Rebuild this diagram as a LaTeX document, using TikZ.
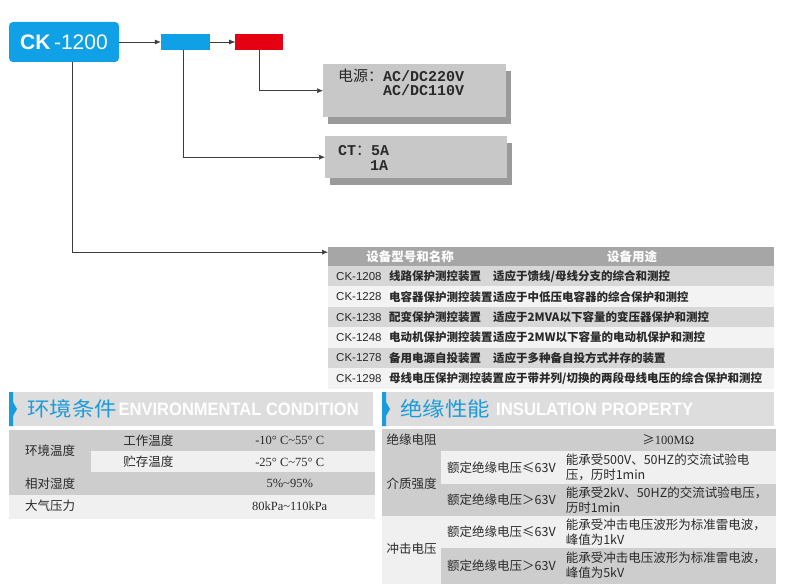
\documentclass[tikz,border=0pt]{standalone}
\usepackage{fontspec}
\setmainfont{Liberation Serif}
\setsansfont{Liberation Sans}
\setmonofont{Liberation Mono}
\newfontfamily\cjk{Noto Sans CJK SC}
\usepackage{graphicx}
\usepackage{tikz}
\usetikzlibrary{shapes,positioning,calc}
\usetikzlibrary{shadows}
\usetikzlibrary{arrows.meta}
\definecolor{ckblue}{HTML}{0FA0E6}
\definecolor{ckred}{HTML}{E50012}
\definecolor{boxgray}{HTML}{C8C8C8}
\definecolor{shadowgray}{HTML}{9A9A9A}
\definecolor{hdrgray}{HTML}{A6A6A6}
\definecolor{rowgray}{HTML}{D7D7D7}
\definecolor{rowlight}{HTML}{F3F3F3}
\definecolor{bannergray}{HTML}{DDDDDD}
\definecolor{titleblue}{HTML}{1A9BDC}
\definecolor{cellgray}{HTML}{CDCDCD}
\definecolor{celllight}{HTML}{F0F0F0}
\definecolor{linegray}{HTML}{3C3C3C}
\definecolor{txtgray}{HTML}{2A2A2A}
\newcommand{\rng}{{\char"7E\relax}}
\tikzstyle{arrow} = [semithick,->,>={Latex[length=6pt,width=5pt]},draw=linegray]

\begin{document}
\begin{tikzpicture}[x=1pt, y=-1pt,
	codebox/.style={rectangle, inner sep=0pt, minimum width=#1, minimum height=16pt},
	infobox/.style={rectangle, inner sep=0pt, fill=boxgray, anchor=north west, general shadow={fill=shadowgray, shadow xshift=5pt, shadow yshift=-7pt}},
	infotext/.style={anchor=base west, inner sep=0pt, text=txtgray, font=\ttfamily\bfseries\fontsize{15}{15}\selectfont},
	tblrow/.style={rectangle, inner sep=0pt, anchor=north west, minimum width=445pt, minimum height=20.4pt, fill=#1, draw=#1, line width=0.3pt},
	rowtext/.style={anchor=west, inner sep=0pt, text=txtgray, font=\cjk\bfseries\fontsize{11.5}{12}\selectfont},
	idtext/.style={anchor=west, inner sep=0pt, text=txtgray, font=\sffamily\fontsize{11.5}{12}\selectfont},
	headtext/.style={inner sep=0pt, text=white, font=\cjk\bfseries\fontsize{12.5}{13}\selectfont},
	banner/.style={rectangle, inner sep=0pt, anchor=north west, minimum height=34pt, fill=bannergray},
	tcell/.style={rectangle, inner sep=0pt, anchor=north west, text=txtgray, font=\cjk\fontsize{12.5}{15}\selectfont, fill=#1, draw=#1, line width=0.3pt},
	valcell/.style={align=left, text width=205pt, inner xsep=4pt}]
	\useasboundingbox (0,0) rectangle (787,588);
	
	% CODE
	
	\node[rectangle, rounded corners=4pt, fill=ckblue, text=white, minimum width=110pt, minimum height=40pt, font=\sffamily\fontsize{21}{21}\selectfont] (ck) at (64,42) {\textbf{CK}\,-1200};
	\node[codebox=49pt, fill=ckblue] (cktype) at (185.5,42) {};
	\node[codebox=48pt, fill=ckred, right=25pt of cktype] (ckpower) {};
	
	% OPTIONS
	
	\node[infobox, minimum width=183pt, minimum height=53pt] (power) at (323,64) {};
	\node[infobox, minimum width=182pt, minimum height=42pt] (ct) at (325,136) {};
	\node[infotext] (power1) at (338,82) {{\cjk\mdseries 电源：}AC/DC220V};
	\node[infotext] (power2) at (383,96) {AC/DC110V};
	\node[infotext] (ct1) at (338,156) {CT{\cjk\mdseries ：}5A};
	\node[infotext] (ct2) at (370,171) {1A};
	
	% MODELS
	
	\node[tblrow=hdrgray, minimum height=19pt] (thead) at (328,247) {};
	\node[headtext] (theadname) at (410,256.5) {设备型号和名称};
	\node[headtext] (theaduse) at (632,256.5) {设备用途};
	
	\node[tblrow=rowgray] (r1) at (328,266) {};
	\node[tblrow=rowlight] (r2) at (328,286.4) {};
	\node[tblrow=rowgray] (r3) at (328,306.8) {};
	\node[tblrow=rowlight] (r4) at (328,327.2) {};
	\node[tblrow=rowgray] (r5) at (328,347.6) {};
	\node[tblrow=rowlight] (r6) at (328,368) {};
	
	\node[idtext] (r1id) at ([xshift=8pt]r1.west) {CK-1208};
	\node[rowtext] (r1name) at ([xshift=61pt]r1.west) {线路保护测控装置};
	\node[rowtext] (r1use) at ([xshift=165pt]r1.west) {适应于馈线/母线分支的综合和测控};
	\node[idtext] (r2id) at ([xshift=8pt]r2.west) {CK-1228};
	\node[rowtext] (r2name) at ([xshift=61pt]r2.west) {电容器保护测控装置};
	\node[rowtext] (r2use) at ([xshift=165pt]r2.west) {适应于中低压电容器的综合保护和测控};
	\node[idtext] (r3id) at ([xshift=8pt]r3.west) {CK-1238};
	\node[rowtext] (r3name) at ([xshift=61pt]r3.west) {配变保护测控装置};
	\node[rowtext] (r3use) at ([xshift=165pt]r3.west) {适应于2MVA以下容量的变压器保护和测控};
	\node[idtext] (r4id) at ([xshift=8pt]r4.west) {CK-1248};
	\node[rowtext] (r4name) at ([xshift=61pt]r4.west) {电动机保护测控装置};
	\node[rowtext] (r4use) at ([xshift=165pt]r4.west) {适应于2MW以下容量的电动机保护和测控};
	\node[idtext] (r5id) at ([xshift=8pt]r5.west) {CK-1278};
	\node[rowtext] (r5name) at ([xshift=61pt]r5.west) {备用电源自投装置};
	\node[rowtext] (r5use) at ([xshift=165pt]r5.west) {适应于多种备自投方式并存的装置};
	\node[idtext] (r6id) at ([xshift=8pt]r6.west) {CK-1298};
	\node[rowtext] (r6name) at ([xshift=61pt]r6.west) {母线电压保护测控装置};
	\node[rowtext, right=0pt of r6name] (r6use) {应于带并列/切换的两段母线电压的综合保护和测控};
	
	% CONNECTORS
	
	\draw[arrow] (ck) -- (cktype);
	\draw[arrow] (cktype) -- (ckpower);
	\draw[arrow] (ckpower.south) |- (power.west);
	\draw[arrow] ([xshift=-2.5pt]cktype.south) |- (ct.west);
	\draw[arrow] ([xshift=8pt]ck.south) |- ([yshift=4.5pt]thead.west);
	
	% ENVIRONMENT
	
	\node[banner, minimum width=364pt] (envbar) at (9,392) {};
	\fill[titleblue] (envbar.north west) -- ++(4,0) -- ++(0,10) -- ++(4,7) -- ++(-4,7) -- ++(0,10) -- ++(-4,0) -- cycle;
	\node[anchor=west, inner sep=0pt, text=titleblue] (envtitle) at ([xshift=18pt]envbar.west) {\scalebox{1.12}[1]{\cjk\fontsize{20}{20}\selectfont 环境条件}};
	\node[inner sep=0pt, text=white, right=1.5pt of envtitle] (envtitleen) {\resizebox{240pt}{12.5pt}{\sffamily\bfseries ENVIRONMENTAL CONDITION}};
	
	\node[tcell=cellgray, minimum width=82pt, minimum height=42pt] (envtemp) at (9,430) {环境温度};
	\node[tcell=cellgray, minimum width=114pt, minimum height=21pt] (envwork) at (envtemp.north east) {工作温度};
	\node[tcell=cellgray, minimum width=168pt, minimum height=21pt, font=\rmfamily\fontsize{12.5}{15}\selectfont] (envworkval) at (envwork.north east) {-10° C\rng 55° C};
	\node[tcell=celllight, minimum width=114pt, minimum height=21pt] (envstore) at (envwork.south west) {贮存温度};
	\node[tcell=celllight, minimum width=168pt, minimum height=21pt, font=\rmfamily\fontsize{12.5}{15}\selectfont] (envstoreval) at (envstore.north east) {-25° C\rng 75° C};
	\node[tcell=cellgray, minimum width=82pt, minimum height=22pt] (envhum) at (envtemp.south west) {相对湿度};
	\node[tcell=cellgray, minimum width=114pt, minimum height=22pt] (envhumgap) at (envhum.north east) {};
	\node[tcell=cellgray, minimum width=168pt, minimum height=22pt, font=\rmfamily\fontsize{12.5}{15}\selectfont] (envhumval) at (envhumgap.north east) {5\%\rng 95\%};
	\node[tcell=celllight, minimum width=82pt, minimum height=23pt] (envair) at (envhum.south west) {大气压力};
	\node[tcell=celllight, minimum width=114pt, minimum height=23pt] (envairgap) at (envair.north east) {};
	\node[tcell=celllight, minimum width=168pt, minimum height=23pt, font=\rmfamily\fontsize{12.5}{15}\selectfont] (envairval) at (envairgap.north east) {80kPa\rng 110kPa};
	
	% INSULATION
	
	\node[banner, minimum width=392pt] (insbar) at (382,392) {};
	\fill[titleblue] (insbar.north west) -- ++(4,0) -- ++(0,10) -- ++(4,7) -- ++(-4,7) -- ++(0,10) -- ++(-4,0) -- cycle;
	\node[anchor=west, inner sep=0pt, text=titleblue] (institle) at ([xshift=18pt]insbar.west) {\scalebox{1.12}[1]{\cjk\fontsize{20}{20}\selectfont 绝缘性能}};
	\node[inner sep=0pt, text=white, right=6pt of institle] (institleen) {\resizebox{197pt}{12.5pt}{\sffamily\bfseries INSULATION PROPERTY}};
	
	\node[tcell=cellgray, minimum width=59pt, minimum height=22pt] (insres) at (382,429) {绝缘电阻};
	\node[tcell=cellgray, minimum width=120pt, minimum height=22pt] (insresgap) at (insres.north east) {};
	\node[tcell=cellgray, minimum width=213pt, minimum height=22pt] (insresval) at (insresgap.north east) {≥\rmfamily 100MΩ};
	\node[tcell=cellgray, minimum width=59pt, minimum height=64pt] (insdiel) at (insres.south west) {介质强度};
	\node[tcell=celllight, minimum width=120pt, minimum height=32pt] (insdiellow) at (insdiel.north east) {额定绝缘电压≤63V};
	\node[tcell=celllight, valcell, minimum width=213pt, minimum height=32pt] (insdiellowval) at (insdiellow.north east) {能承受500V、50HZ的交流试验电\\压，历时1min};
	\node[tcell=cellgray, minimum width=120pt, minimum height=32pt] (insdielhigh) at (insdiellow.south west) {额定绝缘电压＞63V};
	\node[tcell=cellgray, valcell, minimum width=213pt, minimum height=32pt] (insdielhighval) at (insdielhigh.north east) {能承受2kV、50HZ的交流试验电压，\\历时1min};
	\node[tcell=celllight, minimum width=59pt, minimum height=67pt] (insimp) at (insdiel.south west) {冲击电压};
	\node[tcell=celllight, minimum width=120pt, minimum height=32pt] (insimplow) at (insimp.north east) {额定绝缘电压≤63V};
	\node[tcell=celllight, valcell, minimum width=213pt, minimum height=32pt] (insimplowval) at (insimplow.north east) {能承受冲击电压波形为标准雷电波，\\峰值为1kV};
	\node[tcell=cellgray, minimum width=120pt, minimum height=35pt] (insimphigh) at (insimplow.south west) {额定绝缘电压＞63V};
	\node[tcell=cellgray, valcell, minimum width=213pt, minimum height=35pt] (insimphighval) at (insimphigh.north east) {能承受冲击电压波形为标准雷电波，\\峰值为5kV};
	
\end{tikzpicture}
\end{document}
